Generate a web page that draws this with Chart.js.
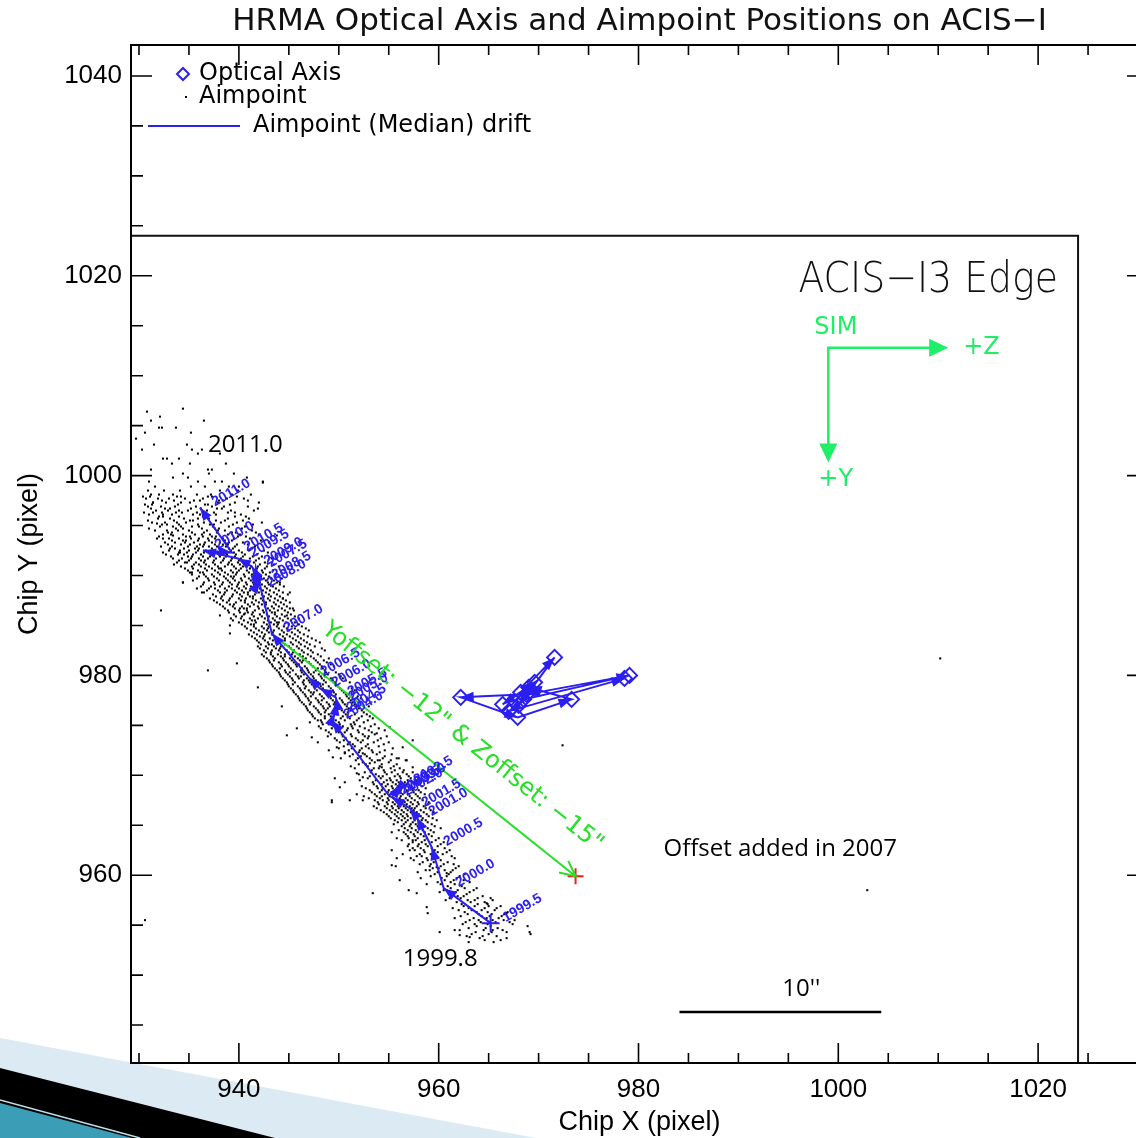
<!DOCTYPE html>
<html>
<head>
<meta charset="utf-8">
<title>HRMA Optical Axis and Aimpoint Positions on ACIS-I</title>
<script src="https://cdn.jsdelivr.net/npm/chart.js@4.4.1/dist/chart.umd.min.js"></script>
<style>
  html, body { margin: 0; padding: 0; background: #fff; overflow: hidden; }
  #wrap { width: 1136px; height: 1138px; overflow: hidden; position: relative; }
  canvas { display: block; }
</style>
</head>
<body>
<div id="wrap"><canvas id="chart" width="1160" height="1138"></canvas></div>
<script>
// axes
const xRange = [929.2, 1031.0];
const yRange = [941.2, 1043.1];
const xTickValues = [940, 960, 980, 1000, 1020];
const yTickValues = [960, 980, 1000, 1020, 1040];
const chipEdge = 1024;

// median aimpoint drift, half-year steps
const driftYears = ['1999.5', '2000.0', '2000.5', '2001.0', '2001.5', '2002.0', '2002.5', '2003.0',
  '2003.5', '2004.0', '2004.5', '2005.0', '2005.5', '2006.0', '2006.5', '2007.0', '2007.5', '2008.0',
  '2008.5', '2009.0', '2009.5', '2010.0', '2010.5', '2011.0'];
const driftX = [965.2, 960.5, 959.3, 957.8, 957.1, 955.3, 956.3, 955.6, 955.0, 949.3, 949.6, 949.8,
  949.7, 948.1, 947.0, 943.3, 941.7, 941.6, 942.1, 941.3, 939.9, 936.4, 939.3, 936.1];
const driftY = [955.2, 958.7, 962.8, 965.8, 966.7, 967.8, 969.0, 968.3, 968.0, 975.5, 976.2, 977.3,
  977.8, 978.7, 979.8, 984.2, 990.7, 988.7, 989.5, 990.9, 991.7, 992.5, 992.3, 996.8];

// optical axis positions
const opticalX = [968.2, 971.6, 968.5, 979.1, 968.8, 962.2, 967.9, 973.3, 969.0, 966.4, 969.6, 968.0, 967.0, 978.6];
const opticalY = [978.3, 981.8, 977.6, 980.0, 978.1, 977.8, 975.8, 977.6, 978.8, 977.1, 979.3, 977.0, 976.4, 979.7];

// offset added in 2007: from the 2007.0 median to the new aimpoint
const offsetStartIndex = 15;
const offsetTarget = [973.7, 959.9];

// SIM direction arrows
const simOrigin = [999.0, 1012.8];
const simZEnd = 1011.0;
const simYEnd = 1001.3;

// free text notes
const noteTexts = ['2011.0', '1999.8', 'Offset added in 2007', "10''"];
const noteX = [936.9, 956.4, 982.5, 996.3];
const noteY = [1003.0, 951.6, 962.6, 948.6];
const scaleBarX = [984.1, 1004.3];
const scaleBarY = 946.3;

// individual aimpoints, one row per y: [y, x, x, ...]
const aimpointRowsA = [
  [1006.7, 934.4], [1006.4, 930.8], [1005.9, 932.1], [1005.5, 931.2, 936.5],
  [1004.8, 932.0, 933.7, 932.3], [1004.3, 930.6, 935.2], [1003.7, 929.7], [1003.1, 931.5, 934.8],
  [1002.6, 930.3, 935.3, 936.3], [1002.2, 935.9, 938.1], [1001.7, 932.4, 934.0, 932.8],
  [1001.2, 938.7, 933.3, 935.1], [1000.6, 936.9, 937.3, 931.2], [1000.2, 934.4, 939.5, 937.0],
  [999.8, 933.4, 934.9, 940.8], [999.4, 937.6, 938.3, 942.4, 935.9, 931.0],
  [998.9, 935.2, 939.0, 931.6, 936.6, 940.0], [998.5, 930.9, 932.5, 934.1, 938.1, 939.9],
  [998.1, 931.2, 932.0, 933.4, 935.8, 937.2, 939.3, 941.2],
  [997.7, 930.7, 931.9, 933.0, 934.6, 936.4, 938.8, 940.5],
  [997.3, 931.4, 932.7, 934.2, 935.1, 937.9, 939.6, 942.0],
  [996.9, 930.9, 932.2, 933.6, 935.7, 937.3, 938.5, 940.9],
  [996.5, 931.7, 932.9, 934.0, 934.9, 936.8, 939.2, 941.5],
  [996.1, 931.0, 932.4, 933.3, 935.4, 936.1, 937.7, 940.2],
  [995.7, 931.9, 933.1, 934.5, 935.9, 937.0, 938.9, 941.0],
  [995.3, 931.3, 932.6, 933.8, 934.7, 936.5, 938.2, 939.8, 942.3],
  [994.9, 932.1, 933.4, 934.2, 935.3, 936.0, 937.4, 939.0, 940.6],
  [994.5, 931.6, 932.8, 933.9, 935.0, 936.8, 937.9, 938.6, 941.3],
  [994.1, 932.4, 933.2, 934.4, 935.6, 936.3, 937.1, 938.9, 940.1, 942.0],
  [993.7, 931.8, 933.0, 934.0, 935.2, 936.0, 936.9, 937.6, 938.4, 939.5, 941.1],
  [993.3, 932.6, 933.6, 934.6, 935.5, 936.6, 937.3, 938.1, 939.0, 940.4, 943.0],
  [992.9, 932.2, 933.3, 934.9, 935.8, 936.4, 937.0, 937.8, 938.7, 939.6, 941.6],
  [992.5, 933.0, 934.1, 935.0, 935.9, 936.7, 937.5, 938.3, 939.2, 940.0, 941.0, 942.5],
  [992.1, 932.7, 933.9, 934.5, 935.4, 936.2, 937.2, 938.0, 938.8, 939.7, 940.6, 941.8],
  [991.7, 933.4, 934.3, 935.2, 936.0, 936.9, 937.7, 938.5, 939.3, 940.2, 941.1, 942.0, 943.3],
  [991.3, 933.8, 934.8, 935.7, 936.5, 937.4, 938.2, 939.0, 939.9, 940.7, 941.5, 942.6],
  [990.9, 934.2, 935.3, 936.2, 937.0, 937.9, 938.6, 939.5, 940.4, 941.2, 941.9, 942.8, 944.0],
  [990.5, 934.9, 935.9, 936.8, 937.6, 938.3, 939.2, 940.0, 940.8, 941.5, 942.3, 943.4],
  [990.1, 935.3, 936.5, 937.3, 938.1, 938.9, 939.7, 940.5, 941.3, 942.0, 942.7, 943.7],
  [989.7, 935.8, 936.9, 937.8, 938.7, 939.4, 940.2, 941.0, 941.8, 942.5, 943.2, 944.3],
  [989.3, 934.4, 936.5, 937.5, 938.4, 939.1, 940.0, 940.7, 941.4, 942.1, 942.9, 943.8],
  [988.9, 936.2, 937.2, 938.1, 939.0, 939.8, 940.5, 941.2, 941.9, 942.6, 943.4, 944.5],
  [988.5, 936.8, 937.9, 938.8, 939.6, 940.3, 941.1, 941.8, 942.4, 943.1, 944.0],
  [988.1, 937.4, 938.5, 939.4, 940.1, 940.9, 941.6, 942.3, 943.0, 943.8, 944.9],
  [987.7, 937.1, 938.2, 939.1, 940.0, 940.7, 941.4, 942.2, 942.9, 943.6, 944.4],
  [987.3, 937.8, 938.8, 939.7, 940.6, 941.3, 942.0, 942.7, 943.5, 944.2, 945.1],
  [986.9, 938.4, 939.4, 940.3, 941.1, 941.9, 942.6, 943.3, 944.0, 944.8],
  [986.5, 932.2, 938.9, 940.0, 940.8, 941.6, 942.4, 943.1, 943.9, 944.6, 945.5],
  [986.1, 939.5, 940.5, 941.3, 942.1, 942.8, 943.6, 944.3, 945.2],
  [985.7, 939.2, 940.2, 941.1, 941.9, 942.6, 943.4, 944.1, 944.9, 946.0],
  [985.3, 940.0, 940.9, 941.7, 942.5, 943.2, 944.0, 944.7, 945.6],
  [984.9, 940.6, 941.5, 942.3, 943.0, 943.8, 944.5, 945.3, 946.3],
  [984.5, 941.2, 942.0, 942.8, 943.5, 944.3, 945.0, 945.9, 947.0],
  [984.1, 941.0, 941.8, 942.6, 943.3, 944.1, 944.8, 945.6, 946.5],
  [983.7, 941.6, 942.4, 943.1, 943.9, 944.6, 945.4, 946.2, 947.3],
  [983.3, 942.0, 942.9, 943.7, 944.4, 945.2, 946.0, 946.8, 948.1],
  [982.9, 941.9, 942.7, 943.5, 944.2, 945.0, 945.8, 946.6, 947.6],
  [982.5, 942.5, 943.3, 944.0, 944.8, 945.5, 946.3, 947.2, 948.6],
  [982.1, 942.3, 943.2, 943.9, 944.6, 945.3, 946.1, 946.9, 947.9],
  [981.7, 942.8, 943.6, 944.4, 945.1, 945.9, 946.7, 947.5, 949.0, 1010.2],
  [981.3, 943.1, 944.0, 944.7, 945.5, 946.3, 947.0, 947.9, 948.8],
  [980.9, 943.4, 944.3, 945.0, 945.8, 946.6, 947.4, 948.3, 949.5],
  [980.5, 936.9, 943.8, 944.6, 945.4, 946.2, 946.9, 947.7, 948.6],
  [980.1, 944.1, 944.9, 945.7, 946.5, 947.2, 948.0, 948.9, 950.0],
  [979.7, 944.4, 945.3, 946.0, 946.8, 947.5, 948.3, 949.2, 950.4],
  [979.3, 944.8, 945.6, 946.4, 947.1, 947.9, 948.7, 949.6, 951.1],
  [978.9, 945.0, 945.9, 946.7, 947.5, 948.2, 949.0, 949.9],
  [978.5, 945.4, 946.2, 947.0, 947.8, 948.6, 949.4, 950.3, 951.6],
  [978.1, 945.7, 946.6, 947.4, 948.1, 948.9, 949.7, 950.7],
  [977.7, 946.0, 946.9, 947.7, 948.5, 949.2, 950.1, 951.0, 952.2],
  [977.3, 946.3, 947.2, 948.0, 948.8, 949.6, 950.4, 951.4],
  [976.9, 946.7, 947.5, 948.4, 949.1, 949.9, 950.8, 951.8, 953.0],
  [976.5, 946.9, 947.9, 948.7, 949.5, 950.3, 951.2, 952.3],
  [976.1, 947.3, 948.2, 949.0, 949.8, 950.7, 951.6, 952.8],
  [975.7, 947.6, 948.6, 949.4, 950.2, 951.1, 952.0, 953.4],
  [975.3, 947.1, 948.3, 949.2, 950.0, 951.5, 952.5],
  [974.9, 948.0, 949.5, 950.4, 951.3, 952.1, 953.2],
  [974.5, 948.7, 949.8, 950.8, 951.9, 953.0, 954.6],
  [974.1, 949.2, 950.3, 951.2, 952.4, 953.6],
  [973.7, 949.6, 950.7, 951.7, 952.9, 954.2],
  [973.3, 950.1, 951.1, 952.2, 953.5, 955.0],
  [973.0, 972.4],
  [972.9, 950.5, 951.6, 952.7, 954.0],
  [972.5, 949.0, 951.0, 952.1, 953.3, 954.6],
  [972.1, 951.4, 952.6, 953.8, 955.3],
  [971.7, 950.2, 951.9, 953.1, 954.4, 956.0],
  [971.3, 952.4, 953.6, 955.0],
  [970.9, 951.2, 952.9, 954.1, 955.5],
  [970.5, 953.3, 954.5, 955.6, 956.5],
  [970.1, 952.0, 953.7, 954.8, 955.9, 956.8],
  [969.7, 952.9, 954.2, 955.1, 956.2, 957.2, 958.0],
  [969.3, 950.6, 953.4, 954.5, 955.4, 956.0, 956.6, 957.5],
  [968.9, 952.3, 953.8, 954.7, 955.3, 955.9, 956.5, 957.1, 958.3],
  [968.5, 953.1, 954.3, 955.0, 955.6, 956.2, 956.8, 957.4, 958.0],
  [968.1, 951.8, 953.6, 954.6, 955.2, 955.8, 956.4, 957.0, 957.7, 958.6],
  [967.7, 953.0, 954.1, 954.9, 955.5, 956.1, 956.7, 957.3, 958.1],
  [967.3, 949.3, 953.9, 954.8, 955.4, 956.0, 956.6, 957.2, 957.9, 959.0],
  [966.9, 953.5, 954.6, 955.3, 955.9, 956.5, 957.1, 957.8, 958.5],
  [966.5, 954.2, 955.1, 955.7, 956.3, 956.9, 957.5, 958.2, 959.2],
  [966.1, 954.8, 955.6, 956.2, 956.8, 957.4, 958.0, 958.8],
  [965.7, 955.2, 956.0, 956.6, 957.2, 957.8, 958.4, 959.4],
  [965.3, 955.9, 956.7, 957.4, 958.1, 958.9],
  [964.9, 956.3, 957.1, 957.9, 958.6, 959.6],
  [964.5, 956.0, 956.9, 957.7, 958.4, 959.2],
  [964.1, 956.7, 957.5, 958.2, 959.0],
  [963.7, 955.8, 957.0, 957.9, 958.8, 960.0],
  [963.3, 957.4, 958.3, 959.3, 960.5],
  [962.9, 956.9, 957.9, 958.9, 959.9],
  [962.5, 957.6, 958.5, 959.6, 961.1],
  [962.1, 956.4, 958.1, 959.2, 960.4],
  [961.7, 957.2, 958.8, 959.9, 961.6],
  [961.3, 958.4, 959.5, 960.9],
  [960.9, 955.7, 959.1, 960.2, 962.0],
  [960.5, 958.7, 960.6, 961.4],
  [960.1, 959.6, 961.0, 962.6],
  [959.7, 958.2, 960.3, 961.8],
  [959.3, 959.9, 961.2, 963.1],
  [958.9, 960.9, 962.3],
  [958.5, 957.0, 960.5, 961.9, 963.5, 1002.9],
  [958.1, 961.5, 962.8],
  [957.7, 961.1, 962.2, 963.9, 965.2],
  [957.3, 961.8, 963.2, 964.6],
  [956.9, 962.5, 963.6, 965.0, 966.2],
  [956.5, 962.0, 963.3, 964.3, 965.6],
  [956.1, 962.9, 964.0, 965.3, 966.6],
  [955.7, 961.6, 963.5, 964.8, 966.0],
  [955.5, 930.6],
  [955.3, 962.7, 964.2, 965.7, 967.1],
  [954.9, 963.8, 965.2, 968.9],
  [954.5, 962.1, 964.5, 966.4],
  [954.1, 963.3, 965.0, 969.2],
  [953.7, 964.1, 966.8],
  [953.3, 963.0, 965.5]
];

// second pass over the same band, rows in between the first set
const aimpointRowsB = [
  [997.9, 930.4, 931.1, 933.8, 934.2, 936.9, 937.3, 939.8],
  [997.5, 932.3, 933.5, 935.5, 936.1, 938.0, 938.4, 940.9],
  [997.1, 930.6, 931.3, 933.9, 936.6, 936.9, 939.1],
  [996.7, 931.2, 932.6, 933.1, 935.2, 936.2, 937.8, 938.3, 941.9],
  [996.3, 930.5, 931.4, 933.7, 934.3, 935.8, 937.5, 938.9, 939.6],
  [995.9, 932.0, 932.4, 934.0, 936.4, 936.7, 939.6, 940.7],
  [995.5, 930.9, 933.5, 935.1, 935.4, 937.7, 938.6, 940.4],
  [995.1, 932.3, 932.8, 934.0, 935.9, 937.1, 937.5, 939.4, 941.4],
  [994.7, 931.0, 933.7, 934.4, 936.3, 937.6, 938.0, 940.3],
  [994.3, 932.9, 933.3, 935.3, 936.5, 937.8, 939.3, 939.7, 941.7],
  [993.9, 932.0, 934.7, 935.1, 936.4, 937.3, 937.7, 939.9, 940.7],
  [993.5, 933.3, 934.4, 934.7, 935.9, 937.0, 938.6, 939.3, 942.2],
  [993.1, 932.9, 934.2, 935.1, 936.1, 936.5, 937.6, 938.4, 938.9, 939.8, 940.9],
  [992.7, 933.6, 934.5, 935.6, 936.0, 937.3, 938.0, 939.0, 939.4, 941.3],
  [992.3, 932.4, 934.0, 934.8, 935.7, 936.5, 937.9, 938.2, 939.5, 940.3, 942.9],
  [991.9, 933.2, 934.9, 935.3, 936.4, 937.1, 938.1, 938.7, 939.6, 940.4, 941.4, 942.3],
  [991.5, 934.0, 935.0, 936.2, 936.6, 937.5, 938.4, 939.2, 940.0, 940.3, 941.7],
  [991.1, 933.5, 935.5, 936.0, 936.7, 937.6, 938.9, 939.3, 940.1, 941.0, 942.1, 943.5],
  [990.7, 934.6, 935.4, 936.6, 937.3, 938.0, 938.2, 939.7, 940.2, 941.1, 941.8, 942.6],
  [990.3, 935.1, 936.1, 936.4, 937.9, 938.6, 939.4, 939.8, 941.0, 941.7, 942.4, 943.1],
  [989.9, 936.0, 936.7, 937.5, 938.5, 939.2, 939.5, 940.6, 941.5, 942.2, 943.0, 944.0],
  [989.5, 935.4, 937.0, 938.0, 938.9, 939.6, 940.3, 941.2, 941.6, 942.7, 943.5],
  [989.1, 936.4, 937.6, 938.3, 939.3, 939.9, 940.8, 941.5, 942.3, 943.0, 944.1],
  [988.7, 937.0, 937.6, 938.6, 939.3, 940.0, 940.7, 941.4, 942.1, 942.8, 943.7],
  [988.3, 936.5, 938.1, 938.6, 939.8, 940.5, 940.9, 942.0, 942.7, 943.5, 944.4],
  [987.9, 937.7, 938.3, 939.3, 940.3, 941.1, 941.4, 942.5, 943.2, 944.1],
  [987.5, 937.5, 938.4, 939.0, 940.2, 940.6, 941.7, 942.4, 943.1, 943.9, 944.7],
  [987.1, 938.1, 939.1, 939.5, 940.9, 941.5, 942.3, 942.7, 943.7, 944.5],
  [986.7, 938.6, 939.6, 940.5, 940.8, 942.0, 942.9, 943.5, 944.3, 945.1],
  [986.3, 939.0, 940.1, 940.9, 941.4, 942.5, 943.3, 943.6, 944.9],
  [985.9, 939.7, 940.3, 941.5, 942.3, 943.0, 943.8, 944.6, 945.6],
  [985.5, 939.4, 940.5, 941.3, 941.6, 942.9, 943.6, 944.4, 945.2],
  [985.1, 940.3, 941.2, 941.5, 942.8, 943.5, 943.9, 945.0, 946.0],
  [984.7, 940.8, 941.7, 942.5, 942.9, 944.0, 944.8, 945.6, 946.7],
  [984.3, 941.5, 942.3, 943.0, 943.4, 944.5, 945.3, 946.1],
  [983.9, 941.3, 942.1, 942.5, 943.6, 944.4, 945.1, 945.9, 946.9],
  [983.5, 941.8, 942.6, 943.4, 944.2, 944.6, 945.7, 946.5, 947.7],
  [983.1, 942.2, 943.0, 943.3, 944.6, 945.4, 946.2, 947.1],
  [982.7, 942.1, 942.9, 943.7, 944.1, 945.2, 946.0, 946.9, 948.3],
  [982.3, 942.7, 943.2, 944.2, 945.0, 945.4, 946.5, 947.4],
  [981.9, 942.5, 943.4, 944.2, 944.6, 945.6, 946.4, 947.2, 948.2],
  [981.5, 943.0, 943.5, 944.5, 945.3, 946.1, 946.4, 947.7, 948.5],
  [981.1, 943.3, 944.2, 944.9, 945.7, 946.0, 947.2, 948.1, 949.2],
  [980.7, 943.6, 944.1, 945.2, 946.3, 946.8, 947.9, 948.4],
  [980.3, 944.0, 944.7, 945.1, 946.3, 947.0, 947.5, 948.7, 949.7],
  [979.9, 944.2, 945.1, 945.9, 946.2, 947.4, 948.2, 948.6, 950.2],
  [979.5, 944.6, 945.4, 946.5, 947.0, 947.7, 948.5, 949.4, 950.7],
  [979.1, 944.9, 945.4, 946.5, 947.3, 948.1, 948.4, 949.7],
  [978.7, 945.2, 946.1, 946.6, 947.6, 948.4, 949.2, 950.1, 951.3],
  [978.3, 945.5, 946.4, 947.2, 947.5, 948.7, 949.5, 950.5],
  [977.9, 945.9, 946.7, 947.2, 948.3, 949.1, 949.6, 950.8, 951.9],
  [977.5, 946.1, 947.0, 947.9, 948.3, 949.4, 950.3, 951.2],
  [977.1, 946.5, 947.1, 948.2, 949.0, 949.5, 950.6, 951.6],
  [976.7, 946.8, 947.7, 948.5, 948.9, 950.1, 951.0, 952.0],
  [976.3, 947.1, 948.0, 948.6, 949.7, 950.5, 950.9, 952.5],
  [975.9, 947.4, 948.6, 949.2, 950.4, 950.9, 952.3, 953.1],
  [975.5, 947.9, 948.2, 949.7, 950.6, 951.8, 952.9],
  [975.1, 948.4, 949.0, 950.1, 951.2, 951.6, 953.6],
  [974.7, 948.2, 949.3, 950.9, 951.4, 952.6, 954.0],
  [974.3, 949.0, 950.0, 950.6, 952.0, 953.3],
  [973.9, 948.9, 950.4, 951.3, 952.6, 953.0, 954.8],
  [973.5, 949.8, 950.5, 951.9, 952.4, 953.9],
  [973.1, 950.9, 951.4, 952.9, 954.5],
  [972.7, 950.0, 951.3, 952.3, 953.0, 955.4],
  [972.3, 950.6, 952.0, 953.4, 954.1],
  [971.9, 951.1, 952.2, 952.8, 954.6],
  [971.5, 951.7, 953.3, 953.9, 955.2, 956.7],
  [971.1, 952.0, 952.7, 954.3, 955.8],
  [970.7, 951.6, 953.5, 954.0, 955.2, 956.1],
  [970.3, 952.6, 953.2, 954.6, 955.3, 956.4, 957.4],
  [969.9, 953.1, 954.0, 954.4, 955.6, 956.1, 957.0],
  [969.5, 952.1, 953.7, 954.8, 955.2, 955.8, 956.9, 957.8],
  [969.1, 953.5, 954.3, 954.9, 955.7, 956.3, 956.8, 957.6],
  [968.7, 952.7, 953.9, 954.4, 955.4, 956.0, 956.3, 957.2, 958.7],
  [968.3, 953.3, 954.1, 954.9, 955.4, 956.1, 956.6, 957.5, 958.2],
  [967.9, 952.5, 953.8, 954.3, 955.1, 955.7, 956.2, 957.1, 957.9],
  [967.5, 953.6, 954.4, 955.0, 955.7, 956.4, 956.9, 957.6, 958.4],
  [967.1, 954.0, 954.9, 955.6, 956.1, 956.8, 957.4, 958.0, 958.9],
  [966.7, 953.8, 954.8, 955.4, 956.0, 956.7, 957.3, 957.6, 958.7],
  [966.3, 954.5, 955.3, 955.9, 956.5, 957.2, 957.8, 958.5, 959.5],
  [965.9, 955.0, 955.8, 956.4, 956.9, 957.6, 958.2, 959.0],
  [965.5, 955.6, 956.3, 956.9, 957.6, 958.3, 958.7, 959.8],
  [965.1, 955.5, 956.5, 957.2, 957.7, 958.4, 959.3],
  [964.7, 956.6, 957.3, 958.0, 958.9, 960.2],
  [964.3, 955.3, 956.5, 957.2, 957.9, 958.6, 959.5],
  [963.9, 956.9, 957.6, 958.5, 959.3],
  [963.5, 956.3, 957.7, 958.6, 959.7],
  [963.1, 957.0, 958.0, 958.7, 960.2],
  [962.7, 957.4, 958.2, 959.3, 960.6],
  [962.3, 958.6, 959.9, 960.8],
  [961.9, 957.8, 958.3, 959.6, 961.3],
  [961.5, 957.5, 958.9, 960.2],
  [961.1, 958.1, 959.2, 960.5, 961.5],
  [960.7, 959.4, 960.0, 961.7],
  [960.3, 957.9, 959.9, 961.2],
  [959.9, 959.2, 960.8, 962.1],
  [959.5, 960.6, 961.5, 962.5],
  [959.1, 958.8, 960.2, 961.6],
  [958.7, 961.2, 962.6, 963.8],
  [958.3, 960.1, 961.7, 963.1],
  [957.9, 961.9, 962.5, 964.4],
  [957.5, 960.7, 962.9, 963.6, 965.4],
  [957.1, 962.3, 963.9, 964.9],
  [956.7, 961.4, 963.0, 964.6, 965.8],
  [956.3, 962.6, 963.8, 964.9, 966.9],
  [955.9, 962.2, 964.3, 965.1, 966.3],
  [955.5, 963.1, 964.0, 965.4, 966.5],
  [955.1, 962.4, 963.6, 964.9, 967.4],
  [954.7, 963.0, 964.7, 965.9],
  [954.3, 963.7, 965.3, 966.8],
  [953.9, 962.8, 964.4, 965.8],
  [953.5, 964.6, 966.2]
];

// scattered aimpoints at the edges of the band
const aimpointRowsC = [
  [999.3, 942.4], [997.3, 931.4], [996.3, 932.3], [995.2, 931.8], [994.0, 933.4, 943.8],
  [993.7, 932.4], [992.7, 933.1], [992.3, 934.1], [991.3, 934.6], [990.3, 935.3],
  [989.3, 934.4, 944.1], [988.7, 935.8], [988.3, 936.3, 945.1], [987.7, 944.4],
  [986.7, 940.1, 945.4], [986.2, 940.6], [986.0, 938.1, 944.8], [985.3, 943.8],
  [985.0, 939.1], [984.2, 939.1], [981.2, 939.8], [978.8, 941.9], [976.9, 944.3],
  [974.8, 955.1], [974.7, 945.8], [974.2, 953.8], [974.0, 944.8], [973.8, 947.3],
  [973.5, 957.4], [973.3, 947.9], [972.8, 949.8, 956.4], [972.2, 950.6, 952.4],
  [971.8, 949.4], [971.7, 955.8], [971.5, 954.1, 956.8], [971.2, 953.1], [970.8, 954.3, 957.4],
  [970.5, 958.4], [970.2, 951.8], [969.8, 952.4], [969.7, 949.6], [969.5, 959.4],
  [968.8, 950.1], [968.5, 960.1], [967.5, 949.3, 951.1, 952.4], [966.8, 960.4],
  [963.5, 957.4], [962.5, 955.3, 957.1], [961.7, 955.8], [961.0, 955.3], [960.8, 959.8],
  [960.5, 959.1], [960.2, 960.8], [959.5, 956.1], [958.5, 960.8], [958.2, 953.4, 957.8],
  [957.2, 964.8], [956.8, 958.8], [956.2, 958.9, 966.8], [955.5, 967.6], [954.5, 961.6, 965.4],
  [954.3, 960.1, 969.1], [954.0, 962.1], [953.8, 963.1]
];

const BLUE = 'rgb(42,30,240)';
const GREEN = '#22e022';
const SIM_GREEN = '#1fee66';

const aimpoints = [];
aimpointRowsA.concat(aimpointRowsB, aimpointRowsC).forEach(row => {
  row.slice(1).forEach(x => aimpoints.push({ x: x, y: row[0] }));
});
const driftPoints = driftX.map((x, i) => ({ x: x, y: driftY[i] }));
const opticalPoints = opticalX.map((x, i) => ({ x: x, y: opticalY[i] }));
const offsetPoints = [driftPoints[offsetStartIndex], { x: offsetTarget[0], y: offsetTarget[1] }];
const edgePoints = [
  { x: xRange[0], y: chipEdge },
  { x: chipEdge, y: chipEdge },
  { x: chipEdge, y: yRange[0] }
];

function arrowHead(ctx, x0, y0, x1, y1, len, half) {
  const a = Math.atan2(y1 - y0, x1 - x0);
  const c = Math.cos(a), s = Math.sin(a);
  ctx.beginPath();
  ctx.moveTo(x1, y1);
  ctx.lineTo(x1 - len * c + half * s, y1 - len * s - half * c);
  ctx.lineTo(x1 - len * c - half * s, y1 - len * s + half * c);
  ctx.closePath();
  ctx.fill();
}

// slide decoration in the bottom-left corner
const backdrop = {
  id: 'backdrop',
  beforeDraw(chart) {
    const ctx = chart.ctx;
    ctx.save();
    ctx.fillStyle = '#fff';
    ctx.fillRect(0, 0, chart.width, chart.height);
    ctx.fillStyle = '#dceaf3';
    ctx.beginPath(); ctx.moveTo(0, 1038); ctx.lineTo(536, 1138); ctx.lineTo(0, 1138); ctx.fill();
    ctx.fillStyle = '#000';
    ctx.beginPath(); ctx.moveTo(0, 1068); ctx.lineTo(275, 1138); ctx.lineTo(0, 1138); ctx.fill();
    ctx.fillStyle = '#3b9db6';
    ctx.beginPath(); ctx.moveTo(0, 1103); ctx.lineTo(132, 1138); ctx.lineTo(0, 1138); ctx.fill();
    ctx.strokeStyle = '#bfe0ea';
    ctx.lineWidth = 1.5;
    ctx.beginPath(); ctx.moveTo(0, 1100); ctx.lineTo(140, 1138); ctx.stroke();
    ctx.restore();
  }
};

const overlay = {
  id: 'overlay',
  afterDatasetsDraw(chart) {
    const { ctx, chartArea: a, scales: { x, y } } = chart;
    ctx.save();

    // frame and inward ticks on all four sides
    ctx.strokeStyle = '#000';
    ctx.lineWidth = 2;
    ctx.strokeRect(a.left, a.top, a.right - a.left, a.bottom - a.top);
    ctx.lineWidth = 1.6;
    ctx.beginPath();
    for (let v = 930; v <= 1030; v += 5) {
      const px = x.getPixelForValue(v);
      const len = v % 20 === 0 ? 20 : 10;
      ctx.moveTo(px, a.bottom); ctx.lineTo(px, a.bottom - len);
      ctx.moveTo(px, a.top); ctx.lineTo(px, a.top + len);
    }
    for (let v = 945; v <= 1040; v += 5) {
      const py = y.getPixelForValue(v);
      const len = v % 20 === 0 ? 21 : 12;
      ctx.moveTo(a.left, py); ctx.lineTo(a.left + len, py);
      ctx.moveTo(a.right, py); ctx.lineTo(a.right - len, py);
    }
    ctx.stroke();

    // drift arrows and year labels
    const drift = chart.getDatasetMeta(0).data;
    ctx.fillStyle = BLUE;
    for (let i = 1; i < drift.length; i++) {
      arrowHead(ctx, drift[i - 1].x, drift[i - 1].y, drift[i].x, drift[i].y, 13, 5);
    }
    ctx.font = 'bold 14px "Liberation Sans"';
    ctx.textBaseline = 'alphabetic';
    ctx.textAlign = 'left';
    drift.forEach((p, i) => {
      ctx.save();
      ctx.translate(p.x + 15, p.y - 1);
      ctx.rotate(-Math.PI / 6);
      ctx.fillText(driftYears[i], 0, 0);
      ctx.restore();
    });

    // optical axis arrows
    const opt = chart.getDatasetMeta(1).data;
    for (let i = 1; i < opt.length; i++) {
      arrowHead(ctx, opt[i - 1].x, opt[i - 1].y, opt[i].x, opt[i].y, 13, 5);
    }

    // green offset arrow head and label
    const off = chart.getDatasetMeta(2).data;
    const p0 = off[0], p1 = off[1];
    const ang = Math.atan2(p1.y - p0.y, p1.x - p0.x);
    ctx.strokeStyle = GREEN;
    ctx.lineWidth = 2;
    ctx.beginPath();
    ctx.moveTo(p1.x - 17 * Math.cos(ang - 0.45), p1.y - 17 * Math.sin(ang - 0.45));
    ctx.lineTo(p1.x, p1.y);
    ctx.lineTo(p1.x - 17 * Math.cos(ang + 0.45), p1.y - 17 * Math.sin(ang + 0.45));
    ctx.stroke();
    const ux = Math.cos(ang), uy = Math.sin(ang);
    const mx = (p0.x + p1.x) / 2 + 19 * ux + 38 * uy;
    const my = (p0.y + p1.y) / 2 + 19 * uy - 38 * ux;
    ctx.save();
    ctx.translate(mx, my);
    ctx.rotate(ang);
    ctx.fillStyle = GREEN;
    ctx.font = '24px "DejaVu Sans"';
    ctx.textAlign = 'center';
    ctx.textBaseline = 'middle';
    ctx.fillText('Yoffset: \u221212" & Zoffset: \u221215"', 0, 0);
    ctx.restore();

    // SIM orientation arrows
    const ox = x.getPixelForValue(simOrigin[0]);
    const oy = y.getPixelForValue(simOrigin[1]);
    const zx = x.getPixelForValue(simZEnd);
    const yy = y.getPixelForValue(simYEnd);
    ctx.strokeStyle = SIM_GREEN;
    ctx.fillStyle = SIM_GREEN;
    ctx.lineWidth = 2.5;
    ctx.beginPath();
    ctx.moveTo(zx - 10, oy); ctx.lineTo(ox, oy); ctx.lineTo(ox, yy - 10);
    ctx.stroke();
    arrowHead(ctx, ox, oy, zx, oy, 19, 9);
    arrowHead(ctx, ox, oy, ox, yy, 19, 9);
    ctx.font = '24px "DejaVu Sans"';
    ctx.textBaseline = 'middle';
    ctx.textAlign = 'left';
    ctx.fillText('SIM', ox - 14, oy - 20);
    ctx.fillText('+Z', zx + 15, oy);
    ctx.fillText('+Y', ox - 10, yy + 17);

    // chip edge label, drawn narrow and light like the plotting font
    ctx.fillStyle = '#111';
    ctx.save();
    ctx.translate(x.getPixelForValue(chipEdge - 2), y.getPixelForValue(chipEdge - 4) + 16);
    ctx.scale(0.88, 1);
    ctx.font = '200 43px "DejaVu Sans"';
    ctx.textAlign = 'right';
    ctx.textBaseline = 'alphabetic';
    ctx.fillText('ACIS\u2212I3 Edge', 0, 0);
    ctx.restore();

    // notes
    ctx.fillStyle = '#000';
    ctx.font = '24px "Open Sans"';
    ctx.textBaseline = 'middle';
    noteTexts.forEach((t, i) => {
      ctx.textAlign = i === 3 ? 'center' : 'left';
      ctx.fillText(t, x.getPixelForValue(noteX[i]), y.getPixelForValue(noteY[i]));
    });
    ctx.strokeStyle = '#000';
    ctx.lineWidth = 2.5;
    ctx.beginPath();
    ctx.moveTo(x.getPixelForValue(scaleBarX[0]), y.getPixelForValue(scaleBarY));
    ctx.lineTo(x.getPixelForValue(scaleBarX[1]), y.getPixelForValue(scaleBarY));
    ctx.stroke();

    // legend
    const lx = a.left, ly = a.top;
    ctx.strokeStyle = BLUE;
    ctx.lineWidth = 2;
    ctx.beginPath();
    ctx.moveTo(lx + 52, ly + 23); ctx.lineTo(lx + 58, ly + 29);
    ctx.lineTo(lx + 52, ly + 35); ctx.lineTo(lx + 46, ly + 29); ctx.closePath();
    ctx.stroke();
    ctx.fillStyle = '#000';
    ctx.fillRect(lx + 54, ly + 51, 2, 2);
    ctx.beginPath();
    ctx.moveTo(lx + 17, ly + 81); ctx.lineTo(lx + 109, ly + 81);
    ctx.stroke();
    ctx.font = '24px "DejaVu Sans"';
    ctx.textAlign = 'left';
    ctx.textBaseline = 'middle';
    ctx.fillText('Optical Axis', lx + 68, ly + 29);
    ctx.fillText('Aimpoint', lx + 68, ly + 52);
    ctx.fillText('Aimpoint (Median) drift', lx + 122, ly + 81);

    ctx.restore();
  }
};

Chart.defaults.color = '#000';

new Chart(document.getElementById('chart'), {
  type: 'scatter',
  data: {
    datasets: [
      {
        label: 'Aimpoint (Median) drift',
        data: driftPoints,
        showLine: true,
        borderColor: BLUE,
        borderWidth: 2,
        pointStyle: 'cross',
        pointRadius: ctx => (ctx.dataIndex === 0 ? 9 : 0),
        pointBorderColor: BLUE,
        pointBorderWidth: 2
      },
      {
        label: 'Optical Axis',
        data: opticalPoints,
        showLine: true,
        borderColor: BLUE,
        borderWidth: 2,
        pointStyle: 'rectRot',
        pointRadius: 7.5,
        pointBorderColor: BLUE,
        pointBackgroundColor: 'rgba(0,0,0,0)',
        pointBorderWidth: 2
      },
      {
        label: 'Offset',
        data: offsetPoints,
        showLine: true,
        borderColor: GREEN,
        borderWidth: 2,
        pointRadius: 0
      },
      {
        label: 'New aimpoint',
        data: [{ x: offsetTarget[0], y: offsetTarget[1] }],
        pointStyle: 'cross',
        pointRadius: 8,
        pointBorderColor: '#ff1a1a',
        pointBorderWidth: 2
      },
      {
        label: 'ACIS-I3 edge',
        data: edgePoints,
        showLine: true,
        borderColor: '#111',
        borderWidth: 2,
        pointRadius: 0
      },
      {
        label: 'Aimpoint',
        data: aimpoints,
        pointStyle: 'rect',
        pointRadius: 1.45,
        pointBackgroundColor: '#000',
        pointBorderWidth: 0
      }
    ]
  },
  options: {
    responsive: false,
    animation: false,
    devicePixelRatio: 1,
    layout: { padding: { left: 0, right: 12, top: 0, bottom: 0 } },
    plugins: {
      legend: { display: false },
      tooltip: { enabled: false },
      title: {
        display: true,
        fullSize: false,
        text: 'HRMA Optical Axis and Aimpoint Positions on ACIS\u2212I',
        font: { family: 'DejaVu Sans', size: 31, weight: 'normal', lineHeight: 1.1 },
        padding: { top: 5, bottom: 5.9 },
        color: '#111'
      }
    },
    scales: {
      x: {
        type: 'linear',
        min: xRange[0],
        max: xRange[1],
        afterBuildTicks: s => { s.ticks = xTickValues.map(v => ({ value: v })); },
        afterFit: s => { s.height = 75; },
        grid: { display: false, drawTicks: false },
        border: { display: false },
        ticks: {
          padding: 11,
          maxRotation: 0,
          autoSkip: false,
          callback: v => String(v),
          font: { family: 'Liberation Sans', size: 26 }
        },
        title: {
          display: true,
          text: 'Chip X (pixel)',
          font: { family: 'Liberation Sans', size: 27, lineHeight: 1 },
          padding: { top: 0, bottom: 1.5 }
        }
      },
      y: {
        type: 'linear',
        min: yRange[0],
        max: yRange[1],
        afterBuildTicks: s => { s.ticks = yTickValues.map(v => ({ value: v })); },
        afterFit: s => { s.width = 131; },
        grid: { display: false, drawTicks: false },
        border: { display: false },
        ticks: {
          padding: 9,
          autoSkip: false,
          callback: v => String(v),
          font: { family: 'Liberation Sans', size: 26 }
        },
        title: {
          display: true,
          text: 'Chip Y (pixel)',
          font: { family: 'Liberation Sans', size: 27, lineHeight: 1 },
          padding: { top: 16, bottom: 0 }
        }
      }
    }
  },
  plugins: [backdrop, overlay]
});
</script>
</body>
</html>
